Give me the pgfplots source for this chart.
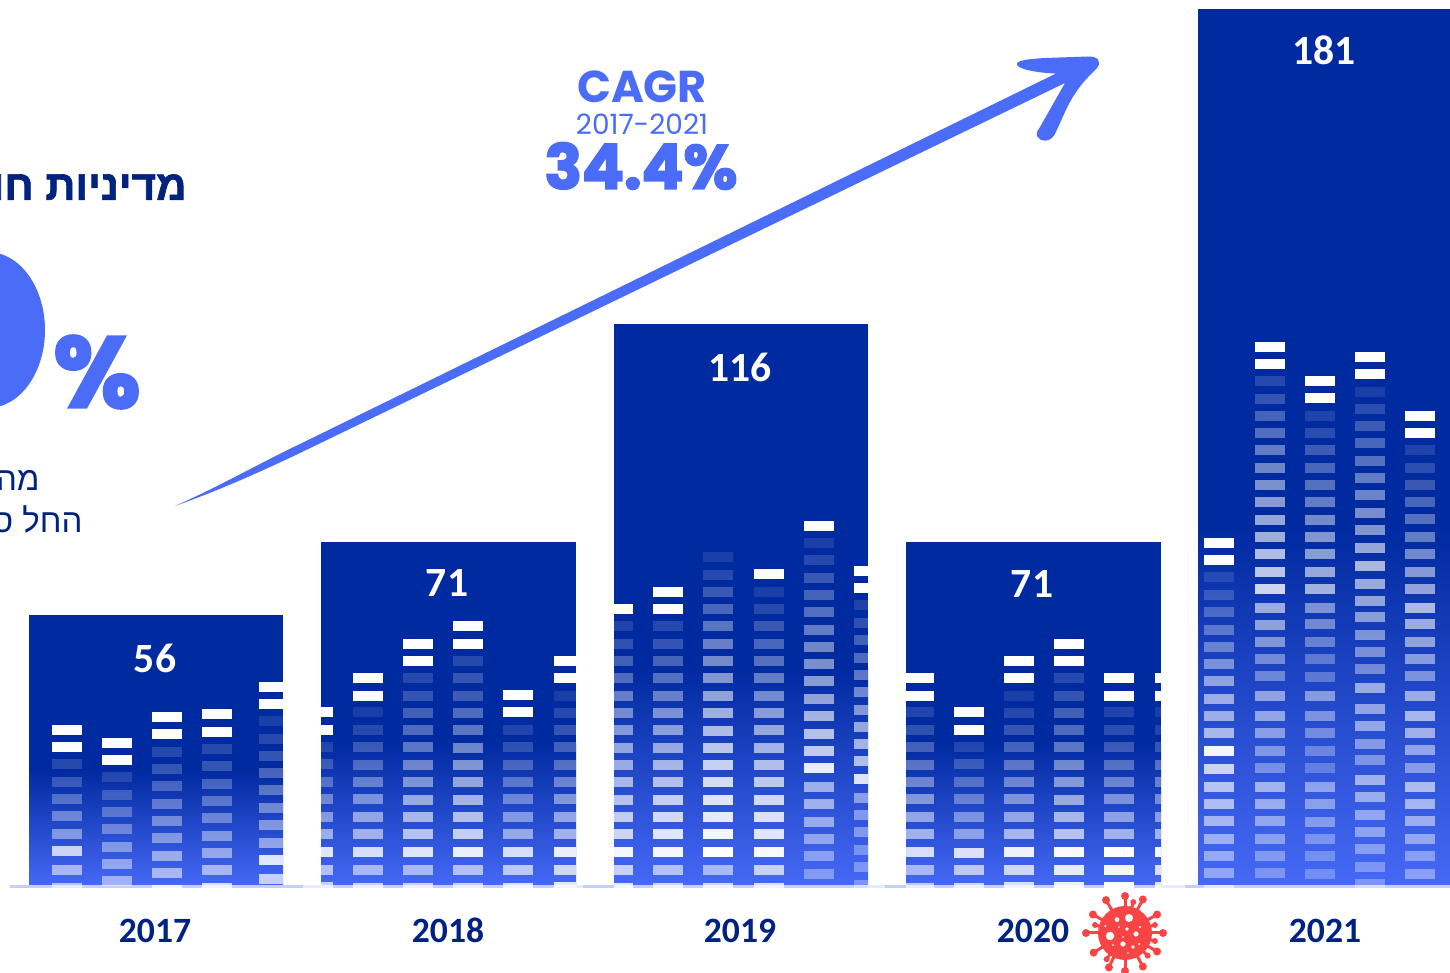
\documentclass[border=0pt]{standalone}
\usepackage{fontspec}
\usepackage{pgfplots}
\pgfplotsset{compat=1.18}
\setmainfont{Carlito}
\newfontfamily\pop{Poppins}
\newfontfamily\popb{Poppins}[Scale=1,FakeBold=3]
\newfontfamily\heb[Script=Hebrew]{Liberation Sans}
\newfontfamily\hebb[Script=Hebrew,FakeBold=1.6]{Liberation Sans Bold}
\TeXXeTstate=1
\definecolor{barTop}{RGB}{0,42,160}
\definecolor{barBot}{RGB}{70,105,246}
\definecolor{acc}{RGB}{74,108,247}
\definecolor{navy}{RGB}{0,35,127}
\definecolor{strip}{RGB}{197,208,250}
\definecolor{stripL}{RGB}{230,235,253}
\definecolor{virus}{RGB}{249,68,69}
\pgfdeclareplotmark{dash}{%
  \pgfpathrectangle{\pgfpoint{-0.25*\dw pt}{-5pt}}{\pgfpoint{0.5*\dw pt}{5pt}}%
  \pgfusepathqfill}
\pgfplotsset{
  canvas/.style={scale only axis,width=725pt,height=486.5pt,hide axis},
  dashes/.style={only marks,scatter,mark=dash,
    scatter/use mapped color={draw=none,fill=white},
    visualization depends on={\thisrow{w}\as\dw},
    visualization depends on={\thisrow{a}\as\da},
    scatter/@pre marker code/.append code={\pgfsetfillopacity{\da}},
    table/row sep=\\},
}
\begin{document}
\begin{tikzpicture}
% the bars, in the chart's own units
\begin{axis}[canvas,xmin=0,xmax=1450,ymin=-17.957,ymax=182.869]
\addplot[fill=barTop,draw=none] coordinates {(29,0)(283,0)(283,56)(29,56)} --cycle;
\addplot[fill=barTop,draw=none] coordinates {(321,0)(576,0)(576,71)(321,71)} --cycle;
\addplot[fill=barTop,draw=none] coordinates {(614,0)(868,0)(868,116)(614,116)} --cycle;
\addplot[fill=barTop,draw=none] coordinates {(906,0)(1161,0)(1161,71)(906,71)} --cycle;
\addplot[fill=barTop,draw=none] coordinates {(1198,0)(1452,0)(1452,181)(1198,181)} --cycle;
\addplot[top color=barTop,bottom color=barBot,draw=none] coordinates {(29,0)(283,0)(283,24)(29,24)} --cycle;
\addplot[top color=barTop,bottom color=barBot,draw=none] coordinates {(321,0)(576,0)(576,29.5)(321,29.5)} --cycle;
\addplot[top color=barTop,bottom color=barBot,draw=none] coordinates {(614,0)(868,0)(868,45)(614,45)} --cycle;
\addplot[top color=barTop,bottom color=barBot,draw=none] coordinates {(906,0)(1161,0)(1161,29.5)(906,29.5)} --cycle;
\addplot[top color=barTop,bottom color=barBot,draw=none] coordinates {(1198,0)(1452,0)(1452,74)(1198,74)} --cycle;
\end{axis}
% the dashes and the annotations, in pixel coordinates of the picture
\begin{axis}[canvas,xmin=0,xmax=1450,ymin=0,ymax=973,y dir=reverse]
\addplot[dashes] table[x=x,y=t] {
x w t a\\
67 30 725 1\\ 67 30 742 1\\ 67 30 759 .15\\ 67 30 777 .2\\ 67 30 794 .28\\ 67 30 811 .35\\ 67 30 829 .42\\ 67 30 846 .75\\ 67 30 865 .55\\ 67 30 883 .6\\
117 30 738 1\\ 117 30 755 1\\ 117 30 772 .13\\ 117 30 790 .2\\ 117 30 807 .28\\ 117 30 824 .33\\ 117 30 842 .4\\ 117 30 859 .45\\ 117 30 876 .5\\
167 30 712 1\\ 167 30 729 1\\ 167 30 747 .15\\ 167 30 764 .2\\ 167 30 781 .25\\ 167 30 799 .32\\ 167 30 816 .38\\ 167 30 833 .42\\ 167 30 851 .5\\ 167 30 868 .55\\ 167 30 885 .85\\
217 30 709 1\\ 217 30 727 1\\ 217 30 744 .15\\ 217 30 761 .2\\ 217 30 779 .25\\ 217 30 796 .3\\ 217 30 813 .35\\ 217 30 831 .42\\ 217 30 848 .48\\ 217 30 865 .55\\ 217 30 883 .8\\
271 24 682 1\\ 271 24 699 1\\ 271 24 716 .1\\ 271 24 734 .15\\ 271 24 751 .2\\ 271 24 768 .27\\ 271 24 785 .32\\ 271 24 803 .38\\ 271 24 820 .43\\ 271 24 838 .48\\ 271 24 855 .85\\ 271 24 874 .7\\
327 12 707 1\\ 327 12 725 1\\ 327 12 742 .13\\ 327 12 759 .2\\ 327 12 777 .28\\ 327 12 794 .36\\ 327 12 812 .44\\ 327 12 829 .52\\ 327 12 847 .85\\ 327 12 865 .6\\ 327 12 882 .7\\
368 30 673 1\\ 368 30 691 1\\ 368 30 707 .1\\ 368 30 725 .15\\ 368 30 742 .22\\ 368 30 760 .28\\ 368 30 777 .35\\ 368 30 794 .42\\ 368 30 812 .5\\ 368 30 829 .55\\ 368 30 847 .8\\ 368 30 865 .55\\ 368 30 883 .7\\
418 30 639 1\\ 418 30 656 1\\ 418 30 673 .15\\ 418 30 691 .2\\ 418 30 708 .25\\ 418 30 725 .3\\ 418 30 742 .35\\ 418 30 760 .4\\ 418 30 777 .45\\ 418 30 795 .55\\ 418 30 812 .6\\ 418 30 829 .65\\ 418 30 847 .85\\ 418 30 865 .55\\ 418 30 883 .7\\
468 30 621 1\\ 468 30 639 1\\ 468 30 656 .15\\ 468 30 673 .2\\ 468 30 691 .24\\ 468 30 708 .3\\ 468 30 725 .36\\ 468 30 743 .42\\ 468 30 760 .48\\ 468 30 777 .54\\ 468 30 795 .6\\ 468 30 812 .65\\ 468 30 829 .72\\ 468 30 847 .9\\ 468 30 865 .6\\ 468 30 883 .7\\
518 30 690 1\\ 518 30 707 1\\ 518 30 725 .13\\ 518 30 742 .18\\ 518 30 760 .25\\ 518 30 777 .3\\ 518 30 794 .36\\ 518 30 812 .43\\ 518 30 829 .5\\ 518 30 847 .8\\ 518 30 865 .65\\ 518 30 883 .8\\
565 22 656 1\\ 565 22 673 1\\ 565 22 691 .1\\ 565 22 708 .15\\ 565 22 725 .2\\ 565 22 742 .25\\ 565 22 760 .3\\ 565 22 777 .37\\ 565 22 794 .44\\ 565 22 812 .5\\ 565 22 829 .55\\ 565 22 847 .9\\ 565 22 865 .75\\ 565 22 882 .85\\
623.5 19 604 1\\ 623.5 19 621 .12\\ 623.5 19 639 .18\\ 623.5 19 656 .25\\ 623.5 19 673 .3\\ 623.5 19 691 .37\\ 623.5 19 708 .42\\ 623.5 19 725 .48\\ 623.5 19 743 .52\\ 623.5 19 760 .55\\ 623.5 19 777 .6\\ 623.5 19 795 .65\\ 623.5 19 812 .7\\ 623.5 19 829 .75\\ 623.5 19 847 .95\\ 623.5 19 865 .7\\ 623.5 19 883 .85\\
668 30 587 1\\ 668 30 604 1\\ 668 30 621 .15\\ 668 30 639 .2\\ 668 30 656 .27\\ 668 30 673 .32\\ 668 30 691 .38\\ 668 30 708 .45\\ 668 30 725 .5\\ 668 30 743 .55\\ 668 30 760 .6\\ 668 30 777 .65\\ 668 30 795 .72\\ 668 30 812 .78\\ 668 30 829 .85\\ 668 30 847 .95\\ 668 30 865 .6\\ 668 30 883 .75\\
718 30 552 .1\\ 718 30 570 .15\\ 718 30 587 .22\\ 718 30 604 .28\\ 718 30 621 .35\\ 718 30 639 .4\\ 718 30 656 .45\\ 718 30 673 .5\\ 718 30 691 .55\\ 718 30 708 .6\\ 718 30 726 .65\\ 718 30 743 .7\\ 718 30 760 .75\\ 718 30 777 .8\\ 718 30 795 .85\\ 718 30 812 .88\\ 718 30 829 .95\\ 718 30 847 1\\ 718 30 865 .55\\ 718 30 883 .75\\
769 30 569 1\\ 769 30 587 .1\\ 769 30 604 .15\\ 769 30 621 .22\\ 769 30 639 .28\\ 769 30 656 .33\\ 769 30 673 .38\\ 769 30 691 .43\\ 769 30 708 .5\\ 769 30 725 .55\\ 769 30 743 .6\\ 769 30 760 .65\\ 769 30 777 .7\\ 769 30 795 .78\\ 769 30 812 .82\\ 769 30 829 .85\\ 769 30 847 .97\\ 769 30 865 .7\\ 769 30 883 .8\\
819 30 521 1\\ 819 30 538 .1\\ 819 30 555 .15\\ 819 30 573 .22\\ 819 30 590 .27\\ 819 30 607 .32\\ 819 30 625 .38\\ 819 30 642 .43\\ 819 30 659 .48\\ 819 30 676 .52\\ 819 30 694 .55\\ 819 30 711 .62\\ 819 30 729 .68\\ 819 30 746 .72\\ 819 30 763 .9\\ 819 30 782 .55\\ 819 30 799 .55\\ 819 30 817 .5\\ 819 30 834 .45\\ 819 30 851 .4\\ 819 30 869 .35\\
861 14 566 1\\ 861 14 583 1\\ 861 14 600 .12\\ 861 14 618 .18\\ 861 14 635 .25\\ 861 14 653 .3\\ 861 14 670 .36\\ 861 14 687 .42\\ 861 14 705 .48\\ 861 14 722 .55\\ 861 14 739 .6\\ 861 14 756 .65\\ 861 14 774 .85\\ 861 14 793 .45\\ 861 14 810 .4\\ 861 14 827 .38\\ 861 14 845 .33\\ 861 14 862 .33\\ 861 14 880 .3\\
920 28 673 1\\ 920 28 691 1\\ 920 28 707 .13\\ 920 28 725 .18\\ 920 28 742 .25\\ 920 28 760 .32\\ 920 28 777 .38\\ 920 28 794 .45\\ 920 28 812 .5\\ 920 28 829 .55\\ 920 28 847 .8\\ 920 28 865 .55\\ 920 28 883 .65\\
969 30 707 1\\ 969 30 725 1\\ 969 30 742 .13\\ 969 30 759 .2\\ 969 30 777 .27\\ 969 30 794 .33\\ 969 30 812 .4\\ 969 30 829 .45\\ 969 30 848 .82\\ 969 30 865 .65\\ 969 30 883 .75\\
1019 30 656 1\\ 1019 30 673 1\\ 1019 30 691 .1\\ 1019 30 708 .14\\ 1019 30 725 .2\\ 1019 30 742 .26\\ 1019 30 760 .33\\ 1019 30 777 .38\\ 1019 30 794 .43\\ 1019 30 812 .5\\ 1019 30 829 .58\\ 1019 30 847 .92\\ 1019 30 865 .75\\ 1019 30 882 .8\\
1069 30 639 1\\ 1069 30 656 1\\ 1069 30 673 .15\\ 1069 30 691 .2\\ 1069 30 708 .25\\ 1069 30 725 .3\\ 1069 30 742 .35\\ 1069 30 760 .42\\ 1069 30 777 .48\\ 1069 30 795 .55\\ 1069 30 812 .6\\ 1069 30 829 .65\\ 1069 30 847 .97\\ 1069 30 865 .87\\ 1069 30 882 .9\\
1119 30 673 1\\ 1119 30 691 1\\ 1119 30 707 .12\\ 1119 30 725 .17\\ 1119 30 742 .22\\ 1119 30 760 .3\\ 1119 30 777 .37\\ 1119 30 794 .42\\ 1119 30 812 .48\\ 1119 30 829 .55\\ 1119 30 847 1\\ 1119 30 865 .95\\ 1119 30 882 .97\\
1158 6 673 1\\ 1158 6 691 1\\ 1158 6 707 .1\\ 1158 6 725 .13\\ 1158 6 742 .2\\ 1158 6 760 .3\\ 1158 6 777 .35\\ 1158 6 794 .4\\ 1158 6 812 .46\\ 1158 6 829 .55\\ 1158 6 847 .95\\ 1158 6 865 .8\\ 1158 6 882 .85\\
1219 30 538 1\\ 1219 30 555 1\\ 1219 30 572 .12\\ 1219 30 590 .18\\ 1219 30 607 .25\\ 1219 30 625 .3\\ 1219 30 642 .35\\ 1219 30 659 .42\\ 1219 30 676 .5\\ 1219 30 694 .55\\ 1219 30 711 .55\\ 1219 30 728 .6\\ 1219 30 746 .95\\ 1219 30 764 .75\\ 1219 30 782 .65\\ 1219 30 799 .6\\ 1219 30 816 .55\\ 1219 30 834 .5\\ 1219 30 851 .45\\ 1219 30 868 .42\\ 1219 30 885 .6\\
1270 30 342 1\\ 1270 30 359 1\\ 1270 30 376 .15\\ 1270 30 394 .2\\ 1270 30 411 .27\\ 1270 30 428 .32\\ 1270 30 445 .38\\ 1270 30 463 .43\\ 1270 30 480 .48\\ 1270 30 497 .53\\ 1270 30 515 .58\\ 1270 30 532 .62\\ 1270 30 549 .68\\ 1270 30 567 .72\\ 1270 30 584 .8\\ 1270 30 603 .58\\ 1270 30 620 .52\\ 1270 30 637 .45\\ 1270 30 654 .38\\ 1270 30 671 .35\\ 1270 30 691 .5\\ 1270 30 711 .5\\ 1270 30 728 .45\\ 1270 30 746 .4\\ 1270 30 763 .35\\ 1270 30 782 .55\\ 1270 30 799 .5\\ 1270 30 816 .45\\ 1270 30 834 .4\\ 1270 30 851 .35\\ 1270 30 868 .3\\
1320 30 376 1\\ 1320 30 393 1\\ 1320 30 411 .12\\ 1320 30 428 .17\\ 1320 30 445 .23\\ 1320 30 463 .28\\ 1320 30 480 .33\\ 1320 30 497 .38\\ 1320 30 515 .45\\ 1320 30 532 .5\\ 1320 30 549 .52\\ 1320 30 567 .58\\ 1320 30 584 .62\\ 1320 30 603 .45\\ 1320 30 619 .4\\ 1320 30 637 .35\\ 1320 30 654 .3\\ 1320 30 672 .28\\ 1320 30 691 .45\\ 1320 30 711 .4\\ 1320 30 728 .35\\ 1320 30 746 .3\\ 1320 30 763 .25\\ 1320 30 782 .45\\ 1320 30 799 .42\\ 1320 30 817 .38\\ 1320 30 834 .32\\ 1320 30 851 .28\\ 1320 30 869 .25\\
1370 30 352 1\\ 1370 30 369 1\\ 1370 30 387 .1\\ 1370 30 404 .17\\ 1370 30 421 .23\\ 1370 30 438 .28\\ 1370 30 456 .33\\ 1370 30 473 .38\\ 1370 30 490 .42\\ 1370 30 508 .47\\ 1370 30 525 .5\\ 1370 30 543 .58\\ 1370 30 561 .65\\ 1370 30 579 .58\\ 1370 30 596 .55\\ 1370 30 612 .5\\ 1370 30 630 .45\\ 1370 30 647 .42\\ 1370 30 664 .38\\ 1370 30 683 .55\\ 1370 30 704 .5\\ 1370 30 721 .5\\ 1370 30 739 .42\\ 1370 30 755 .38\\ 1370 30 775 .55\\ 1370 30 792 .5\\ 1370 30 810 .45\\ 1370 30 827 .42\\ 1370 30 844 .38\\ 1370 30 862 .32\\ 1370 30 879 .3\\
1420 30 411 1\\ 1420 30 428 1\\ 1420 30 445 .12\\ 1420 30 463 .17\\ 1420 30 480 .22\\ 1420 30 497 .28\\ 1420 30 514 .33\\ 1420 30 532 .38\\ 1420 30 549 .43\\ 1420 30 567 .5\\ 1420 30 584 .55\\ 1420 30 603 .65\\ 1420 30 619 .58\\ 1420 30 637 .52\\ 1420 30 654 .48\\ 1420 30 671 .42\\ 1420 30 691 .55\\ 1420 30 711 .6\\ 1420 30 728 .55\\ 1420 30 745 .48\\ 1420 30 763 .42\\ 1420 30 782 .6\\ 1420 30 799 .55\\ 1420 30 816 .5\\ 1420 30 834 .45\\ 1420 30 851 .38\\ 1420 30 869 .38\\
};
% white band under the baseline, then the baseline
\addplot[fill=white,draw=none] coordinates {(0,888)(1450,888)(1450,973)(0,973)} --cycle;
\addplot[fill=stripL,draw=none] coordinates {(10,885)(1450,885)(1450,888)(10,888)} --cycle;
\addplot[fill=strip,draw=none] coordinates {(10,885)(303,885)(303,888)(10,888)} --cycle;
\addplot[fill=strip,draw=none] coordinates {(321,885)(576,885)(576,888)(321,888)} --cycle;
\addplot[fill=strip,draw=none] coordinates {(583,885)(868,885)(868,888)(583,888)} --cycle;
\addplot[fill=strip,draw=none] coordinates {(885,885)(1161,885)(1161,888)(885,888)} --cycle;
\addplot[fill=strip,draw=none] coordinates {(1185,885)(1450,885)(1450,888)(1185,888)} --cycle;
% value labels
\node[white,font=\fontsize{20.8}{21}\selectfont\bfseries] at (axis cs:155,658) {56};
\node[white,font=\fontsize{20.8}{21}\selectfont\bfseries] at (axis cs:447,583) {71};
\node[white,font=\fontsize{20.8}{21}\selectfont\bfseries] at (axis cs:740,367) {116};
\node[white,font=\fontsize{20.8}{21}\selectfont\bfseries] at (axis cs:1032,584) {71};
\node[white,font=\fontsize{20.8}{21}\selectfont\bfseries] at (axis cs:1324,50) {181};
% years
\node[navy,font=\fontsize{17.8}{18}\selectfont\bfseries] at (axis cs:155,931) {2017};
\node[navy,font=\fontsize{17.8}{18}\selectfont\bfseries] at (axis cs:448,930) {2018};
\node[navy,font=\fontsize{17.8}{18}\selectfont\bfseries] at (axis cs:740,931) {2019};
\node[navy,font=\fontsize{17.8}{18}\selectfont\bfseries] at (axis cs:1033,931) {2020};
\node[navy,font=\fontsize{17.8}{18}\selectfont\bfseries] at (axis cs:1325,931) {2021};
% arrow
\fill[acc] (axis cs:175,506) .. controls (axis cs:220,486) and (axis cs:260,463) .. (axis cs:300,444) -- (axis cs:1056,73.5) .. controls (axis cs:1040,73) and (axis cs:1020,70) .. (axis cs:1017,65) .. controls (axis cs:1015,60) and (axis cs:1030,59) .. (axis cs:1045,58) -- (axis cs:1088,56.5) .. controls (axis cs:1098,56) and (axis cs:1102,62) .. (axis cs:1097,68) .. controls (axis cs:1085,80) and (axis cs:1075,90) .. (axis cs:1065,112) -- (axis cs:1055,134) .. controls (axis cs:1050,143) and (axis cs:1040,142) .. (axis cs:1037,136) .. controls (axis cs:1036,132) and (axis cs:1038,130) .. (axis cs:1040,127) -- (axis cs:1065,83) -- (axis cs:300,453) .. controls (axis cs:260,472) and (axis cs:220,490) .. (axis cs:175,506) -- cycle;
% CAGR
\node[acc,inner sep=0pt,font=\fontsize{22.3}{23}\selectfont\pop\bfseries] at (axis cs:642,87) {CAGR};
\node[acc,inner sep=0pt,font=\fontsize{14}{15}\selectfont\pop] at (axis cs:642,124) {2017-2021};
\node[acc,inner sep=0pt,font=\fontsize{31}{32}\selectfont\popb\bfseries] at (axis cs:641,166) {34.4\%};
% big number, cut by the edge of the picture
\fill[acc] (axis cs:-12,330) ellipse [x radius=28.5pt,y radius=39pt];
\node[acc,font=\fontsize{50}{51}\selectfont\popb\bfseries] at (axis cs:97,372) {\%};
% Hebrew texts
\node[navy,anchor=east,inner sep=0pt,font=\fontsize{21}{22}\selectfont\hebb] at (axis cs:187,191) {\beginR מדיניות חוץ\endR};
\node[navy,anchor=east,inner sep=0pt,font=\fontsize{16.5}{17}\selectfont\heb] at (axis cs:40,480) {\beginR מה\endR};
\node[navy,anchor=east,inner sep=0pt,font=\fontsize{16.5}{17}\selectfont\heb] at (axis cs:83,519) {\beginR החל ס\endR};
\coordinate (vc) at (axis cs:1125,933);
\coordinate (sw) at (axis cs:0,973);
\coordinate (ne) at (axis cs:1450,0);
\end{axis}
% virus, cut by the lower edge of the picture
\begin{scope}
\clip (sw) rectangle (ne);
\begin{scope}[shift={(vc)},virus]
\foreach \an/\rr/\bb in {0/19/2,30/18.5/2,62/19/2,75/16/1.5,90/18.5/2,120/19/2,150/18.5/2,165/15.5/1.5,180/19.5/2,212/18.5/2,235/16/1.5,245/19/2,270/19/2,298/19/2,315/16/1.5,330/18.5/2,345/15.5/1.5,15/15.5/1.5}{
  \draw[line width=1.5pt] (0,0) -- (\an:\rr pt);
  \fill (\an:\rr pt) circle (\bb pt);
}
\fill (0,0) circle (13.5pt);
\foreach \dx/\dy/\dr in {2/7.5/2,-4/6.7/1.2,-7.5/-1.5/2.1,5.5/-0.5/1.3,1/2/0.9,-1/-5.5/1.3,4/-7/0.9,-10/3.5/0.5,7.5/3/0.6,-3/3/0.4,-1/-2/0.4,-6/-6/0.5,7/-5.5/0.5,1.5/-10/0.4}{
  \fill[white] (\dx pt,\dy pt) circle (\dr pt);
}
\end{scope}
\end{scope}
\end{tikzpicture}
\end{document}
